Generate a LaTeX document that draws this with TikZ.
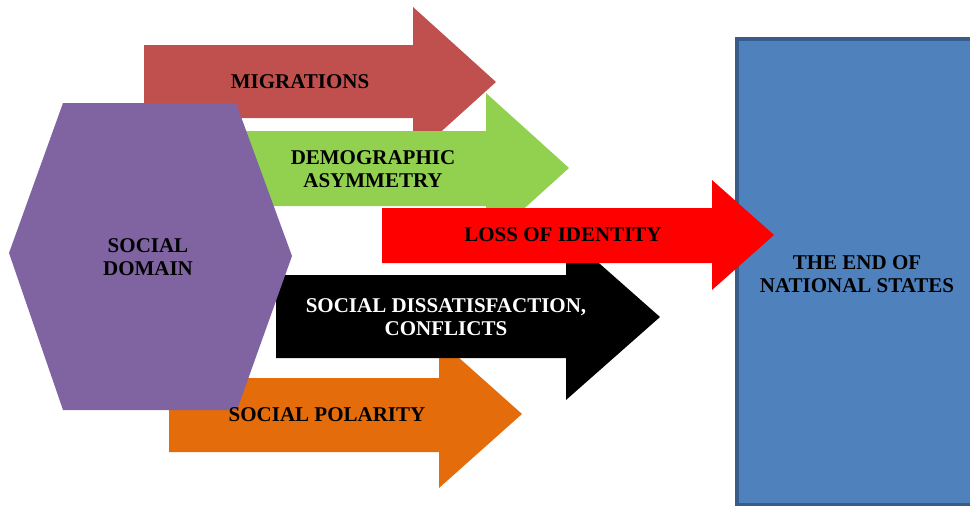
\documentclass[tikz,border=0pt]{standalone}
\usepackage{fontspec}
\setmainfont{Liberation Serif}

\definecolor{migrcol}{HTML}{C0504D}
\definecolor{democol}{HTML}{92D050}
\definecolor{identcol}{HTML}{FF0000}
\definecolor{conflcol}{HTML}{000000}
\definecolor{polarcol}{HTML}{E46C0A}
\definecolor{domaincol}{HTML}{8064A2}
\definecolor{boxfill}{HTML}{4F81BD}
\definecolor{boxline}{HTML}{385D8A}

\begin{document}
\begin{tikzpicture}[x=1pt,y=-1pt,
    label text/.style={font=\fontsize{21}{23}\selectfont\bfseries,
      align=center, inner sep=0pt}]
  % set the visible area of the figure
  \useasboundingbox (0,0) rectangle (970,506);
  \clip (0,0) rectangle (970,506);

  % the box on the right runs off the page
  \node [draw=boxline, line width=3.5pt, fill=boxfill,
    minimum width=240pt, minimum height=466pt] (statesbox) at (857,272) {};

  % the fat arrows, from the lowest layer up
  \foreach \col/\xa/\xb/\xc/\yt/\yb/\yht/\yhb in {
      migrcol/144/413/496/45/118/7/157,
      democol/200/486/569/131/206/93/243,
      polarcol/169/439/522/378/452/340/488,
      conflcol/276/566/660/275/358/234/400,
      identcol/382/712/774/208/263/180/290}
    \fill [\col] (\xa,\yt) -- (\xb,\yt) -- (\xb,\yht)
      -- (\xc,{(\yht+\yhb)/2}) -- (\xb,\yhb) -- (\xb,\yb) -- (\xa,\yb) -- cycle;

  % the hexagon lies on top of the arrows
  \fill [domaincol] (9,253) -- (63,103) -- (236,103) -- (292,256)
    -- (237,410) -- (63,410) -- cycle;

  % Put the texts in
  \node [label text] (domain) at (148,257) {SOCIAL\\DOMAIN};
  \node [label text] (migrations) at (300,82) {MIGRATIONS};
  \node [label text] (demography) at (373,169.5) {DEMOGRAPHIC\\ASYMMETRY};
  \node [label text] (identity) at (563,235) {LOSS OF IDENTITY};
  \node [label text, white] (conflicts) at (446,317)
    {SOCIAL DISSATISFACTION,\\CONFLICTS};
  \node [label text] (polarity) at (327,415) {SOCIAL POLARITY};
  \node [label text] (states) at (857,274.5) {THE END OF\\NATIONAL STATES};
\end{tikzpicture}
\end{document}
